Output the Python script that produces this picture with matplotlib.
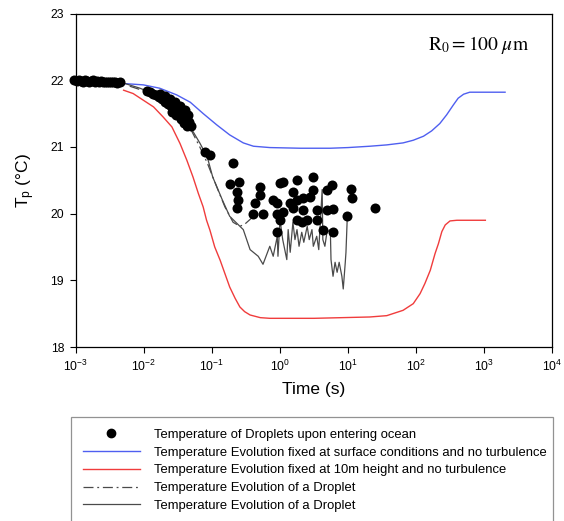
import numpy as np
import matplotlib
matplotlib.use("Agg")
import matplotlib.pyplot as plt
from matplotlib.lines import Line2D

plt.rcParams['font.family'] = ['Liberation Sans', 'DejaVu Sans']
plt.rcParams['mathtext.fontset'] = 'custom'
plt.rcParams['mathtext.rm'] = 'Liberation Sans'
plt.rcParams['mathtext.it'] = 'Liberation Sans:italic'

# --- data (time given as log10 seconds) ---
blue_logt = [-2.30, -2.01, -1.77, -1.52, -1.32, -1.13, -0.93, -0.74, -0.54, -0.39,
             -0.15, 0.30, 0.74, 1.00, 1.32, 1.57, 1.81, 1.96, 2.11, 2.23,
             2.35, 2.45, 2.55, 2.62, 2.70, 2.79, 3.31]
blue_temp = [21.95, 21.93, 21.88, 21.78, 21.67, 21.50, 21.33, 21.18, 21.06, 21.01,
             20.99, 20.98, 20.98, 20.99, 21.01, 21.03, 21.06, 21.10, 21.16, 21.24,
             21.35, 21.48, 21.63, 21.73, 21.79, 21.82, 21.82]

red_logt = [-2.30, -2.16, -2.01, -1.86, -1.72, -1.59, -1.47, -1.37, -1.28, -1.20,
            -1.13, -1.08, -1.03, -0.96, -0.88, -0.81, -0.74, -0.66, -0.59, -0.52,
            -0.44, -0.29, -0.15, 0.50, 1.32, 1.57, 1.81, 1.96, 2.06, 2.13,
            2.21, 2.28, 2.33, 2.38, 2.43, 2.50, 2.60, 3.02]
red_temp = [21.85, 21.80, 21.70, 21.60, 21.45, 21.30, 21.05, 20.80, 20.55, 20.30,
            20.10, 19.90, 19.75, 19.50, 19.30, 19.10, 18.90, 18.73, 18.60, 18.53,
            18.48, 18.44, 18.43, 18.43, 18.45, 18.47, 18.55, 18.65, 18.80, 18.95,
            19.15, 19.40, 19.55, 19.73, 19.83, 19.89, 19.90, 19.90]

dashdot_logt = [-2.21, -1.91, -1.54, -1.32, -1.18, -1.07, -0.93, -0.81, -0.69, -0.59,
                -0.52, -0.41]
dashdot_temp = [21.91, 21.81, 21.60, 21.28, 21.00, 20.76, 20.40, 20.10, 19.87, 19.81,
                19.84, 19.94]

solid_logt = [-2.31, -2.06, -1.77, -1.54, -1.32, -1.18, -1.07, -0.99, -0.85, -0.74,
              -0.54, -0.44, -0.32, -0.25, -0.15, -0.10, -0.04, -0.03, 0.00, 0.04,
              0.10, 0.12, 0.15, 0.19, 0.22, 0.25, 0.28, 0.32, 0.35, 0.40,
              0.43, 0.47, 0.49, 0.54, 0.57, 0.62, 0.63, 0.66, 0.69, 0.74,
              0.75, 0.78, 0.81, 0.84, 0.87, 0.91, 0.93, 0.96, 0.97, 0.99]
solid_temp = [21.96, 21.88, 21.76, 21.61, 21.30, 21.06, 20.85, 20.55, 20.21, 19.96,
              19.76, 19.46, 19.36, 19.24, 19.51, 19.36, 19.66, 19.36, 19.91, 19.61,
              19.31, 19.76, 19.42, 19.87, 19.61, 19.76, 19.51, 19.72, 19.57, 19.81,
              19.61, 19.76, 19.51, 19.66, 19.46, 20.36, 19.61, 19.51, 19.72, 19.76,
              19.31, 19.06, 19.27, 19.12, 19.27, 19.06, 18.87, 19.27, 19.42, 19.96]

dots_logt = [
    # cluster at the start
    -3.03, -2.99, -2.96, -2.93, -2.90, -2.87, -2.84, -2.81, -2.78, -2.75,
    -2.72, -2.69, -2.66, -2.63, -2.60, -2.57, -2.54, -2.51, -2.48, -2.45,
    -2.42, -2.39, -2.36,
    # blob along the curves
    -1.96, -1.91, -1.87, -1.82, -1.78, -1.74, -1.69, -1.65, -1.60, -1.56,
    -1.52, -1.47, -1.43, -1.38, -1.34, -1.77, -1.69, -1.62, -1.54, -1.47,
    -1.40, -1.35, -1.59, -1.53, -1.46, -1.41, -1.37, -1.31, -1.10, -1.03,
    # scattered points
    -0.69, -0.74, -0.60, -0.63, -0.62, -0.63, -0.29, -0.29, -0.37, -0.40,
    -0.25, -0.10, 0.00, 0.04, -0.04, -0.04, 0.04, 0.00, -0.04, 0.25,
    0.19, 0.25, 0.15, 0.34, 0.19, 0.34, 0.44, 0.49, 0.49, 0.25,
    0.40, 0.54, 0.54, 0.32, 0.63, 0.69, 0.77, 0.69, 0.78, 0.78,
    0.99, 1.04, 1.06, 1.40]
dots_temp = [
    22.00, 21.99, 22.00, 21.99, 21.98, 22.00, 21.99, 21.98, 21.99, 22.00,
    21.98, 21.99, 21.98, 21.99, 21.98, 21.97, 21.98, 21.97, 21.97, 21.98,
    21.97, 21.96, 21.97,
    21.84, 21.82, 21.80, 21.78, 21.75, 21.72, 21.68, 21.65, 21.62, 21.58,
    21.55, 21.50, 21.46, 21.42, 21.38, 21.80, 21.76, 21.72, 21.67, 21.62,
    21.55, 21.48, 21.52, 21.48, 21.42, 21.36, 21.32, 21.31, 20.93, 20.88,
    20.76, 20.45, 20.48, 20.33, 20.21, 20.09, 20.40, 20.28, 20.16, 19.99,
    19.99, 20.21, 20.46, 20.48, 20.16, 19.99, 20.03, 19.91, 19.72, 20.51,
    20.33, 20.21, 20.16, 20.24, 20.09, 20.06, 20.25, 20.55, 20.36, 19.91,
    19.91, 20.06, 19.91, 19.87, 19.76, 20.36, 20.43, 20.06, 20.07, 19.72,
    19.96, 20.37, 20.24, 20.09]

xtick_exp = [-3, -2, -1, 0, 1, 2, 3, 4]
ytick_vals = [18, 19, 20, 21, 22, 23]

labels = ["Temperature of Droplets upon entering ocean",
          "Temperature Evolution fixed at surface conditions and no turbulence",
          "Temperature Evolution fixed at 10m height and no turbulence",
          "Temperature Evolution of a Droplet",
          "Temperature Evolution of a Droplet"]

blue = '#4f5ff0'
red = '#f03c3c'
grey = '#4a4a4a'
dashdot = (8, 3, 1.5, 3)

fig = plt.figure(figsize=(5.64, 5.21), dpi=100)
ax = fig.add_axes([76 / 564, 1 - 347 / 521, 476 / 564, 333.5 / 521])

ax.plot(10.0 ** np.array(blue_logt), blue_temp, color=blue, lw=1.0)
ax.plot(10.0 ** np.array(red_logt), red_temp, color=red, lw=1.0)
ax.plot(10.0 ** np.array(dashdot_logt), dashdot_temp, color=grey, lw=0.9,
        dashes=dashdot)
ax.plot(10.0 ** np.array(solid_logt), solid_temp, color=grey, lw=0.9)
ax.scatter(10.0 ** np.array(dots_logt), dots_temp, s=52, color='black',
           zorder=5, clip_on=False, linewidths=0)

ax.set_xscale('log')
ax.set_xlim(1e-3, 1e4)
ax.set_ylim(18, 23)
ax.set_xticks([10.0 ** e for e in xtick_exp])
ax.set_xticklabels([r'$10^{%d}$' % e for e in xtick_exp])
ax.xaxis.set_minor_locator(matplotlib.ticker.NullLocator())
ax.set_yticks(ytick_vals)
ax.set_yticklabels([str(v) for v in ytick_vals])
ax.tick_params(direction='out', length=4.5, width=0.8, labelsize=8.8, pad=4)
for sp in ax.spines.values():
    sp.set_linewidth(0.9)

ax.set_xlabel('Time (s)', fontsize=12.5, labelpad=6)
ax.set_ylabel(r'T$_\mathrm{p}$ (°C)', fontsize=12.5, labelpad=10)

ax.text(0.952, 0.905, r'$\mathrm{R}_0 = 100\ \mu\mathrm{m}$', transform=ax.transAxes,
        ha='right', va='center', fontsize=14, math_fontfamily='stix')

handles = [Line2D([], [], ls='none', marker='o', ms=6, color='black'),
           Line2D([], [], color=blue, lw=1.0),
           Line2D([], [], color=red, lw=1.0),
           Line2D([], [], color=grey, lw=0.9, dashes=dashdot),
           Line2D([], [], color=grey, lw=0.9)]
leg = fig.legend(handles, labels, loc='upper left',
                 bbox_to_anchor=(71 / 564, 0.0, 482 / 564, 1 - 417 / 521),
                 mode='expand', borderaxespad=0, fontsize=9.4, numpoints=1,
                 handlelength=4.4, handletextpad=1.05, labelspacing=0.43,
                 borderpad=0.9, fancybox=False, frameon=True)
leg.get_frame().set_edgecolor('#777777')
leg.get_frame().set_linewidth(0.9)

fig.savefig('out.png', dpi=100)
